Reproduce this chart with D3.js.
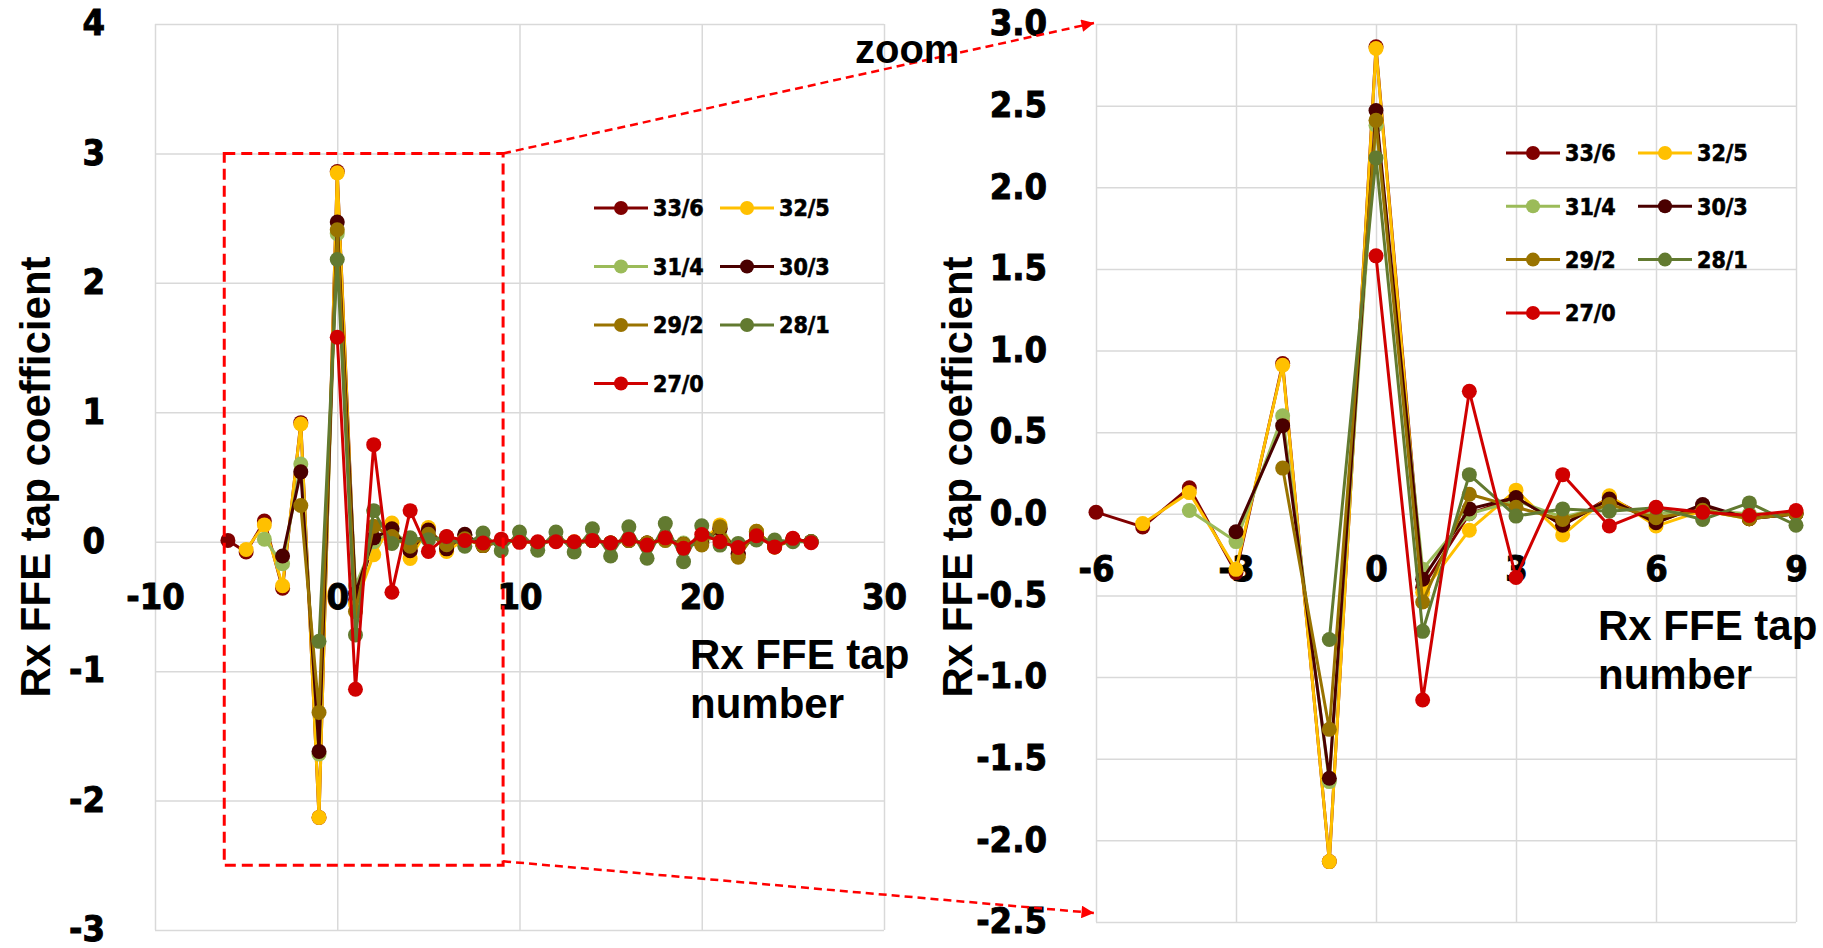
<!DOCTYPE html>
<html>
<head>
<meta charset="utf-8">
<script src="https://cdn.jsdelivr.net/npm/d3@7/dist/d3.min.js"></script>
<style>
  body { margin: 0; background: #fff; }
  .num { font-family: "DejaVu Sans Condensed", "DejaVu Sans", sans-serif; font-stretch: condensed; font-weight: bold; fill: #000; stroke: #000; stroke-width: 0.9px; }
  .ttl { font-family: "Liberation Sans", Arial, sans-serif; font-weight: bold; fill: #000; }
</style>
</head>
<body>
<svg id="chart"></svg>
<script>
// tap index (x) for every series
const taps = [-6,-5,-4,-3,-2,-1,0,1,2,3,4,5,6,7,8,9,10,11,12,13,14,15,16,17,18,19,20,21,22,23,24,25,26];

// legend names, in drawing order
const names = ["33/6", "32/5", "31/4", "30/3", "29/2", "28/1", "27/0"];
const colors = ["#800000", "#ffc000", "#9bbb59", "#4a0000", "#997300", "#627a30", "#d00000"];

// FFE coefficients per series (null = tap not present)
const v33_6 = [0.01,-0.08,0.16,-0.36,0.92,-2.13,2.86,-0.45,0.0,0.1,-0.07,0.1,-0.05,0.05,-0.03,0.0,0.01,-0.01,0.01,-0.01,0.01,-0.01,0.01,-0.01,0.02,-0.02,-0.01,0.1,-0.1,0.07,-0.04,0.02,0.0];
const v32_5 = [null,-0.06,0.13,-0.34,0.91,-2.13,2.85,-0.48,-0.1,0.145,-0.13,0.11,-0.075,0.02,-0.03,0.01,0.0,-0.01,0.01,0.0,0.01,-0.01,0.01,-0.01,0.02,-0.02,0.0,0.13,-0.11,0.08,-0.04,0.02,0.0];
const v31_4 = [null,null,0.02,-0.17,0.6,-1.64,2.38,-0.34,0.0,0.08,-0.02,0.05,0.0,0.02,0.0,0.0,0.01,-0.01,0.01,-0.01,0.01,-0.01,0.01,-0.01,0.01,-0.01,0.0,0.05,-0.03,0.02,-0.01,0.01,0.0];
const v30_3 = [null,null,null,-0.11,0.54,-1.62,2.47,-0.4,0.03,0.1,-0.07,0.09,-0.055,0.057,-0.03,0.0,0.01,-0.01,0.01,-0.01,0.01,-0.01,0.01,-0.01,0.02,-0.02,-0.01,0.1,-0.09,0.06,-0.03,0.02,0.0];
const v29_2 = [null,null,null,null,0.28,-1.32,2.41,-0.54,0.12,0.04,-0.035,0.057,-0.024,0.022,-0.03,0.0,0.01,-0.01,0.01,-0.01,0.01,-0.01,0.01,-0.01,0.01,-0.02,-0.025,0.115,-0.12,0.08,-0.04,0.01,0.0];
const v28_1 = [null,null,null,null,null,-0.77,2.18,-0.72,0.24,-0.014,0.03,0.016,0.037,-0.035,0.067,-0.07,0.075,-0.065,0.075,-0.08,0.1,-0.11,0.115,-0.128,0.14,-0.154,0.123,-0.026,-0.013,0.013,0.013,0.0,0.0];
const v27_0 = [null,null,null,null,null,null,1.58,-1.14,0.75,-0.39,0.24,-0.075,0.04,0.01,-0.01,0.02,-0.005,0.0,0.0,0.0,0.01,-0.01,0.02,-0.026,0.03,-0.05,0.056,0.0,-0.044,0.046,-0.04,0.026,-0.008];
const values = [v33_6, v32_5, v31_4, v30_3, v29_2, v28_1, v27_0];

// axis ticks
const xTicksL = [-10, 0, 10, 20, 30];
const yTicksL = [-3, -2, -1, 0, 1, 2, 3, 4];
const xTicksR = [-6, -3, 0, 3, 6, 9];
const yTicksR = [-2.5, -2.0, -1.5, -1.0, -0.5, 0.0, 0.5, 1.0, 1.5, 2.0, 2.5, 3.0];

// zoom window (data coords of the left chart)
const zoomBox = { x0: -6.2, x1: 9.1, y0: -2.5, y1: 3.0 };

const width = 1823, height = 948;
const svg = d3.select('#chart').attr('width', width).attr('height', height);
svg.append('rect').attr('width', width).attr('height', height).attr('fill', '#fff');

var defs = svg.append('defs');
defs.append('marker').attr('id', 'arrow').attr('viewBox', '0 0 10 10')
  .attr('refX', 10).attr('refY', 5).attr('markerWidth', 6).attr('markerHeight', 5)
  .attr('markerUnits', 'strokeWidth').attr('orient', 'auto')
  .append('path').attr('d', 'M0,0 L10,5 L0,10 z').attr('fill', '#ff0000');

const seriesData = names.map((n, i) => ({
  name: n, color: colors[i],
  pts: taps.map((t, j) => ({ t: t, v: values[i][j] })).filter(d => d.v != null)
}));

function drawPanel(g, cfg) {
  const x = d3.scaleLinear().domain(cfg.xDom).range(cfg.xRange);
  const y = d3.scaleLinear().domain(cfg.yDom).range(cfg.yRange);
  const left = cfg.xRange[0], right = cfg.xRange[1], top = cfg.yRange[1], bottom = cfg.yRange[0];

  // gridlines
  g.append('g').attr('transform', `translate(0,${bottom})`)
    .call(d3.axisBottom(x).tickValues(cfg.xTicks).tickSize(-(bottom - top)).tickFormat(''))
    .call(a => a.select('.domain').remove())
    .selectAll('line').attr('stroke', '#d9d9d9').attr('stroke-width', 1.5);
  g.append('g').attr('transform', `translate(${left},0)`)
    .call(d3.axisLeft(y).tickValues(cfg.yTicks).tickSize(-(right - left)).tickFormat(''))
    .call(a => a.select('.domain').remove())
    .selectAll('line').attr('stroke', '#d9d9d9').attr('stroke-width', 1.5);

  // tick labels
  g.append('g').attr('transform', `translate(${left},0)`)
    .call(d3.axisLeft(y).tickValues(cfg.yTicks).tickSize(0).tickPadding(cfg.yPad).tickFormat(cfg.yFmt))
    .call(a => a.select('.domain').remove())
    .selectAll('text').attr('class', 'num').attr('dy', '0.3em').style('font-size', '36px');
  g.append('g').attr('transform', `translate(0,${y(0)})`)
    .call(d3.axisBottom(x).tickValues(cfg.xTicks).tickSize(0).tickPadding(42).tickFormat(d => String(d)))
    .call(a => a.select('.domain').remove())
    .selectAll('text').attr('class', 'num').style('font-size', '36px');

  // series
  const line = d3.line().defined(d => d.v != null).x(d => x(d.t)).y(d => y(d.v));
  const inView = s => s.pts.filter(d => d.t >= cfg.xDom[0] && d.t <= cfg.xDom[1]);
  const sg = g.append('g').selectAll('g').data(seriesData).join('g');
  sg.append('path')
    .attr('d', s => line(inView(s)))
    .attr('fill', 'none').attr('stroke', s => s.color).attr('stroke-width', 3)
    .attr('stroke-linejoin', 'round');
  sg.selectAll('circle').data(s => inView(s).map(d => ({ ...d, c: s.color })))
    .join('circle')
    .attr('cx', d => x(d.t)).attr('cy', d => y(d.v)).attr('r', 7.5)
    .attr('fill', d => d.c);

  // legend
  const lg = g.append('g');
  seriesData.forEach((s, i) => {
    const col = i % 2, row = Math.floor(i / 2);
    const lx = cfg.leg.x[col], ly = cfg.leg.y0 + row * cfg.leg.dy;
    lg.append('line').attr('x1', lx).attr('x2', lx + cfg.leg.len).attr('y1', ly).attr('y2', ly)
      .attr('stroke', s.color).attr('stroke-width', 3);
    lg.append('circle').attr('cx', lx + cfg.leg.len / 2).attr('cy', ly).attr('r', 7).attr('fill', s.color);
    lg.append('text').attr('class', 'num').attr('x', lx + cfg.leg.len + 5).attr('y', ly)
      .attr('dy', '0.36em').style('font-size', '23px').style('stroke-width', '0.6px').text(s.name);
  });

  // axis titles
  g.append('text').attr('class', 'ttl').style('font-size', '42px').attr('text-anchor', 'middle')
    .attr('transform', `translate(${cfg.yTitleX},477) rotate(-90)`).text('Rx FFE tap coefficient');
  const xt = g.append('text').attr('class', 'ttl').style('font-size', '42px');
  xt.append('tspan').attr('x', cfg.xTitle[0]).attr('y', cfg.xTitle[1]).text('Rx FFE tap');
  xt.append('tspan').attr('x', cfg.xTitle[0]).attr('y', cfg.xTitle[1] + 49).text('number');

  return { x: x, y: y };
}

const L = drawPanel(svg.append('g'), {
  xDom: [-10, 30], xRange: [155, 884], yDom: [-3, 4], yRange: [930, 24],
  xTicks: xTicksL, yTicks: yTicksL, yPad: 50, yFmt: d => String(d),
  leg: { x: [594, 720], y0: 208, dy: 58.5, len: 54 },
  yTitleX: 50, xTitle: [690, 669]
});
const R = drawPanel(svg.append('g'), {
  xDom: [-6, 9], xRange: [1096, 1796], yDom: [-2.5, 3], yRange: [922, 24],
  xTicks: xTicksR, yTicks: yTicksR, yPad: 49, yFmt: d => d.toFixed(1),
  leg: { x: [1506, 1638], y0: 153, dy: 53.3, len: 54 },
  yTitleX: 972, xTitle: [1598, 640]
});

// zoom box on the left chart
const bx0 = L.x(zoomBox.x0), bx1 = L.x(zoomBox.x1), by0 = L.y(zoomBox.y1), by1 = L.y(zoomBox.y0);
svg.append('rect').attr('x', bx0).attr('y', by0).attr('width', bx1 - bx0).attr('height', by1 - by0)
  .attr('fill', 'none').attr('stroke', '#ff0000').attr('stroke-width', 3).attr('stroke-dasharray', '11,6');

// connectors to the zoomed chart
svg.append('line').attr('x1', bx1).attr('y1', by0).attr('x2', R.x(-6) - 2).attr('y2', R.y(3.0) - 1)
  .attr('stroke', '#ff0000').attr('stroke-width', 2.5).attr('stroke-dasharray', '8,5')
  .attr('marker-end', 'url(#arrow)');
svg.append('line').attr('x1', bx1).attr('y1', by1 - 4).attr('x2', R.x(-6) - 2).attr('y2', R.y(-2.5) - 9)
  .attr('stroke', '#ff0000').attr('stroke-width', 2.5).attr('stroke-dasharray', '8,5')
  .attr('marker-end', 'url(#arrow)');

svg.append('text').attr('class', 'ttl').style('font-size', '40px').attr('x', 855).attr('y', 63).text('zoom');
</script>
</body>
</html>
